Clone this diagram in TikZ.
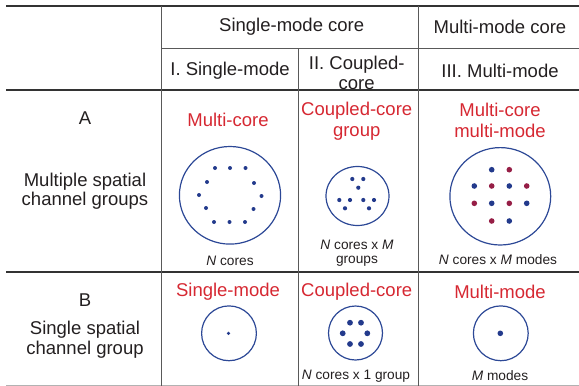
\documentclass[tikz,border=0pt]{standalone}
\usepackage{fontspec}
\setmainfont{Liberation Sans}
\definecolor{txt}{RGB}{35,31,32}
\definecolor{lblred}{RGB}{214,40,50}
\definecolor{cblue}{RGB}{44,72,150}
\definecolor{dblue}{RGB}{35,58,140}
\definecolor{dred}{RGB}{150,30,70}
\begin{document}
\begin{tikzpicture}[x=1pt,y=-1pt,
  big/.style={font=\fontsize{18.5}{20}\selectfont, text=txt, align=center, inner sep=0pt},
  redlbl/.style={font=\fontsize{18.5}{21}\selectfont, text=lblred, align=center, inner sep=0pt},
  small/.style={font=\fontsize{13.7}{14}\selectfont, text=txt, align=center, inner sep=0pt},
  thickrule/.style={line width=1.9pt, draw=black!80},
  thinrule/.style={line width=0.9pt, draw=black!65},
  bottomrule/.style={line width=0.7pt, draw=black!30},
  fibre/.style={line width=1.2pt, draw=cblue},
  bdot/.style={fill=dblue},
  rdot/.style={fill=dred}
]
\useasboundingbox (0,0) rectangle (579,386);

% table rules
\draw[thickrule] (6,6) -- (579,6);
\draw[thickrule] (6,90) -- (579,90);
\draw[thickrule] (6,272) -- (579,272);
\draw[bottomrule] (6,385) -- (579,385);
\draw[thinrule] (161,6) -- (161,386);
\draw[thinrule] (418,6) -- (418,386);
\draw[thinrule] (298,48) -- (298,386);
\draw[thinrule] (161,48) -- (579,48);

% header
\node[big] (hsm) at (291.7,27) {Single-mode core};
\node[big] (hmm) at (500,27) {Multi-mode core};
\node[big] (h1) at (230,71) {I. Single-mode};
\node[big] (h2) at (356.7,73) {II. Coupled-\\core};
\node[big] (h3) at (500,71) {III. Multi-mode};

% row labels
\node[big] (ra) at (85,118) {A};
\node[big, font=\fontsize{18.5}{18.5}\selectfont] (rat) at (85,191) {Multiple spatial\\channel groups};
\node[big] (rb) at (85,300) {B};
\node[big, font=\fontsize{18.5}{20}\selectfont] (rbt) at (85,340) {Single spatial\\channel group};

% row A titles
\node[redlbl] (a1t) at (228,120) {Multi-core};
\node[redlbl] (a2t) at (356.7,121) {Coupled-core\\group};
\node[redlbl] (a3t) at (500,120) {Multi-core\\multi-mode};

% row A captions
\node[small] (a1c) at (230,260.7) {\textit{N} cores};
\node[small] (a2c) at (357,253.7) {\textit{N} cores x \textit{M}\\groups};
\node[small] (a3c) at (498,260) {\textit{N} cores x \textit{M} modes};

% row A fibres
\draw[fibre] (230,195.3) ellipse [x radius=50.6, y radius=48.8];
\foreach \dx/\dy in {-15/-27,0/-27,15.5/-27,-23/-13,24/-12,-31/0,31.5/1,-24/13,23.5/14,-16/27,-0.5/27,15/27}
  \fill[bdot] (230+\dx,195+\dy) circle (2.0);

\draw[fibre] (357.5,196) ellipse [x radius=31.5, y radius=29.5];
\foreach \px/\py in {352.3/179,363.3/179,358.3/187.7,339.3/200,350/200,363.3/200,374/200,345/208.3,369/208.3}
  \fill[bdot] (\px,\py) circle (2.1);

\draw[fibre] (500.3,196.3) ellipse [x radius=50.4, y radius=48.7];
\foreach \px/\py in {491.7/169.7,509.3/186,474.3/186,491.7/203.3,526.7/203.3,509.3/221}
  \fill[bdot] (\px,\py) circle (2.8);
\foreach \px/\py in {509.3/169.7,491.7/186,526.7/186,474.3/203.3,509.3/203.3,491.7/221}
  \fill[rdot] (\px,\py) circle (2.8);

% row B titles
\node[redlbl] (b1t) at (228,291.7) {Single-mode};
\node[redlbl] (b2t) at (356.7,291.7) {Coupled-core};
\node[redlbl] (b3t) at (500,291.7) {Multi-mode};

% row B captions
\node[small] (b2c) at (356,376) {\textit{N} cores x 1 group};
\node[small] (b3c) at (500,376) {\textit{M} modes};

% row B fibres
\draw[fibre] (229,333.3) circle (27.4);
\fill[bdot] (228.5,333.3) circle (1.8);

\draw[fibre] (355.5,333) circle (27);
\foreach \px/\py in {350/322.7,361/322.7,342.7/333.3,367.3/333.3,350/344,361/344}
  \fill[bdot] (\px,\py) circle (2.9);

\draw[fibre] (500.8,333.3) circle (27.4);
\fill[bdot] (500.3,333.3) circle (2.8);
\end{tikzpicture}
\end{document}
